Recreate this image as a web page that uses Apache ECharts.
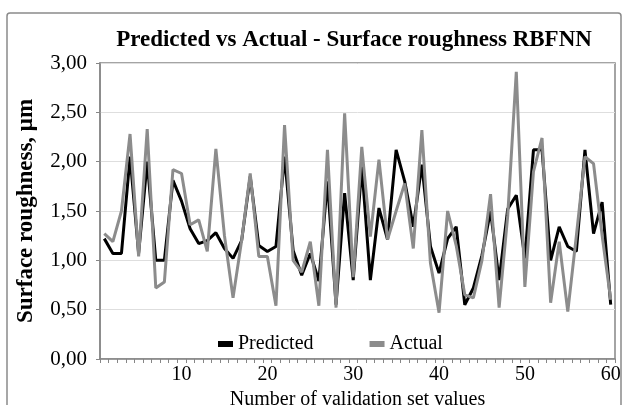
<!DOCTYPE html>
<html>
<head>
<meta charset="utf-8">
<script src="https://cdn.jsdelivr.net/npm/echarts@6/dist/echarts.min.js"></script>
<style>
html,body{margin:0;padding:0;background:#fff;}
#c{width:626px;height:405px;}
</style>
</head>
<body>
<div id="c"></div>
<script>
const categories = [1,2,3,4,5,6,7,8,9,10,11,12,13,14,15,16,17,18,19,20,21,22,23,24,25,26,27,28,29,30,31,32,33,34,35,36,37,38,39,40,41,42,43,44,45,46,47,48,49,50,51,52,53,54,55,56,57,58,59,60];
const predicted = [1.22,1.07,1.07,2.05,1.07,2.00,1.00,1.00,1.81,1.60,1.32,1.17,1.20,1.28,1.12,1.02,1.20,1.85,1.15,1.09,1.14,2.05,1.10,0.85,1.07,0.79,1.80,0.55,1.68,0.80,1.95,0.80,1.53,1.21,2.12,1.80,1.34,1.97,1.14,0.87,1.22,1.34,0.55,0.72,1.05,1.50,0.80,1.52,1.66,1.02,2.12,2.12,1.00,1.34,1.14,1.09,2.12,1.27,1.59,0.55];
const actual = [1.27,1.19,1.50,2.28,1.04,2.33,0.72,0.78,1.92,1.88,1.36,1.41,1.09,2.13,1.25,0.62,1.20,1.88,1.04,1.04,0.54,2.37,1.00,0.88,1.19,0.54,2.12,0.52,2.49,0.83,2.15,1.24,2.02,1.21,1.50,1.78,1.12,2.32,0.97,0.47,1.50,1.15,0.65,0.62,1.00,1.67,0.52,1.45,2.91,0.73,1.90,2.24,0.57,1.19,0.48,1.25,2.05,1.98,1.25,0.60];
const xLabelEvery = 10;
const yMin = 0, yMax = 3, yStep = 0.5;

const serif = '"Liberation Serif","Times New Roman",serif';
const chart = echarts.init(document.getElementById('c'), null, {renderer:'canvas'});
chart.setOption({
  animation: false,
  backgroundColor: '#fff',
  graphic: [{
    type: 'rect', shape: {x: 7, y: 13, width: 614, height: 420, r: 3},
    style: {fill: 'none', stroke: '#8a8a8a', lineWidth: 1.5}, z: -1
  }],
  title: {
    text: 'Predicted vs Actual - Surface roughness RBFNN',
    left: 349, top: 24, textAlign: 'center',
    textStyle: {fontFamily: serif, fontWeight: 'bold', fontSize: 23, color: '#000'}
  },
  legend: {
    data: ['Predicted', 'Actual'],
    left: 213, top: 329,
    icon: 'rect', itemWidth: 15, itemHeight: 6, itemGap: 56,
    textStyle: {fontFamily: serif, fontSize: 20, color: '#000'}
  },
  grid: {left: 100, right: 11, top: 63, bottom: 46, show: true, borderColor: '#868686', borderWidth: 1.5,
         containLabel: false, outerBoundsMode: 'none'},
  xAxis: {
    type: 'category', data: categories, boundaryGap: true,
    name: 'Number of validation set values', nameLocation: 'middle', nameGap: 28,
    nameTextStyle: {fontFamily: serif, fontSize: 20, color: '#000'},
    axisLine: {lineStyle: {color: '#868686', width: 1.5}},
    axisTick: {show: true, interval: 0, length: 4, lineStyle: {color: '#868686'}},
    axisLabel: {
      interval: (i) => (i + 1) % xLabelEvery === 0,
      fontFamily: serif, fontSize: 20, color: '#000', margin: 6
    },
    splitLine: {show: false}
  },
  yAxis: {
    type: 'value', min: yMin, max: yMax, interval: yStep,
    name: 'Surface roughness, μm', nameLocation: 'middle', nameGap: 62,
    nameTextStyle: {fontFamily: serif, fontSize: 23, fontWeight: 'bold', color: '#000'},
    axisLine: {show: true, lineStyle: {color: '#868686', width: 1.5}},
    axisTick: {show: true, length: 4, lineStyle: {color: '#868686'}},
    axisLabel: {
      formatter: (v) => v.toFixed(2).replace('.', ','),
      fontFamily: serif, fontSize: 21, color: '#000', margin: 13
    },
    splitLine: {show: true, lineStyle: {color: '#dedede', width: 1}}
  },
  series: [
    {name: 'Predicted', type: 'line', data: predicted, symbol: 'none',
     lineStyle: {color: '#000', width: 3}, itemStyle: {color: '#000'}, z: 2},
    {name: 'Actual', type: 'line', data: actual, symbol: 'none',
     lineStyle: {color: '#8c8c8c', width: 3}, itemStyle: {color: '#8c8c8c'}, z: 3}
  ]
});
</script>
</body>
</html>
